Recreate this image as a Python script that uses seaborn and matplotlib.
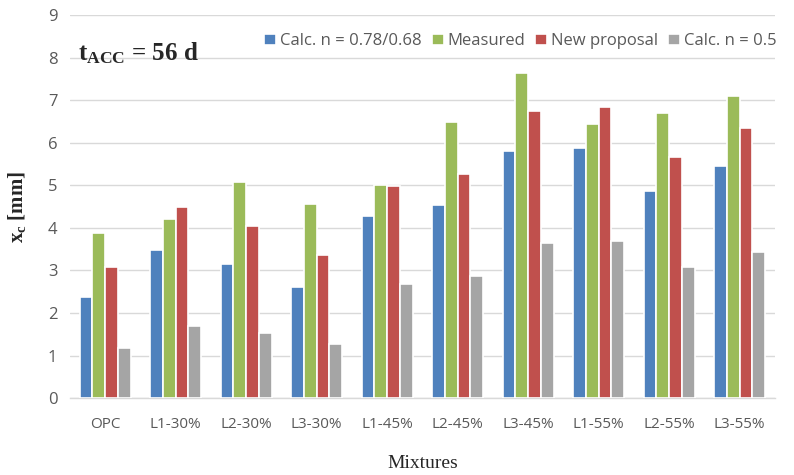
import matplotlib
matplotlib.use("Agg")
import matplotlib.pyplot as plt
import seaborn as sns
import pandas as pd

categories = ["OPC", "L1-30%", "L2-30%", "L3-30%", "L1-45%", "L2-45%", "L3-45%", "L1-55%", "L2-55%", "L3-55%"]
series_names = ["Calc. n = 0.78/0.68", "Measured", "New proposal", "Calc. n = 0.5"]
calc_078 = [2.38, 3.47, 3.15, 2.60, 4.28, 4.53, 5.80, 5.88, 4.87, 5.46]
measured = [3.87, 4.20, 5.07, 4.56, 5.02, 6.50, 7.65, 6.44, 6.70, 7.10]
new_prop = [3.08, 4.48, 4.05, 3.36, 4.99, 5.27, 6.75, 6.85, 5.67, 6.36]
calc_05 = [1.17, 1.69, 1.54, 1.27, 2.69, 2.86, 3.64, 3.70, 3.07, 3.44]
colors = ["#4F81BD", "#9BBB59", "#C0504D", "#A5A5A5"]

rows = []
for name, vals in zip(series_names, [calc_078, measured, new_prop, calc_05]):
    for c, v in zip(categories, vals):
        rows.append({"Mixture": c, "Series": name, "xc": v})
df = pd.DataFrame(rows)

sns.set_theme(style="white")
plt.rcParams["mathtext.fontset"] = "custom"
plt.rcParams["mathtext.rm"] = "Liberation Serif"
plt.rcParams["mathtext.it"] = "Liberation Serif:italic"
plt.rcParams["mathtext.bf"] = "Liberation Serif:bold"

fig = plt.figure(figsize=(7.94, 4.75), dpi=100)
ax = fig.add_axes([0.088, 0.162, 0.888, 0.806])

sns.barplot(data=df, x="Mixture", y="xc", hue="Series", order=categories,
            hue_order=series_names, palette=colors, width=0.72,
            edgecolor="white", linewidth=1.2, saturation=1, ax=ax, zorder=3)

ax.set_ylim(0, 9)
ax.set_yticks(range(0, 10))
ax.yaxis.grid(True, color="#D9D9D9", linewidth=1, zorder=0)
ax.set_axisbelow(True)
for s in ["top", "right", "left"]:
    ax.spines[s].set_visible(False)
ax.spines["bottom"].set_color("#D9D9D9")
ax.spines["bottom"].set_linewidth(1)
ax.tick_params(axis="y", length=0, labelsize=12, labelcolor="#595959", pad=9)
ax.tick_params(axis="x", length=0, labelsize=11, labelcolor="#595959", pad=14)
for lab in ax.get_xticklabels() + ax.get_yticklabels():
    lab.set_family("Open Sans")

ax.set_ylabel(r"$\mathbf{x_c}$ [mm]", family="Liberation Serif", fontsize=15, fontweight="bold", labelpad=14)
ax.set_xlabel("Mixtures", family="Liberation Serif", fontsize=14, labelpad=16)

ax.text(0.012, 0.9, r"$\mathbf{t_{ACC}}$ = 56 d", transform=ax.transAxes,
        family="Liberation Serif", fontsize=18, fontweight="bold", va="center")

ax.legend_.remove()
handles, labels = ax.get_legend_handles_labels()
leg = fig.legend(handles[:4], labels[:4], loc="center left", bbox_to_anchor=(0.333, 0.913),
                 ncol=4, frameon=False, handlelength=0.7, handleheight=0.7,
                 handletextpad=0.25, columnspacing=0.6, borderaxespad=0, borderpad=0,
                 prop={"family": "Open Sans", "size": 12})
for t in leg.get_texts():
    t.set_color("#595959")

fig.savefig("out.png", dpi=100)
